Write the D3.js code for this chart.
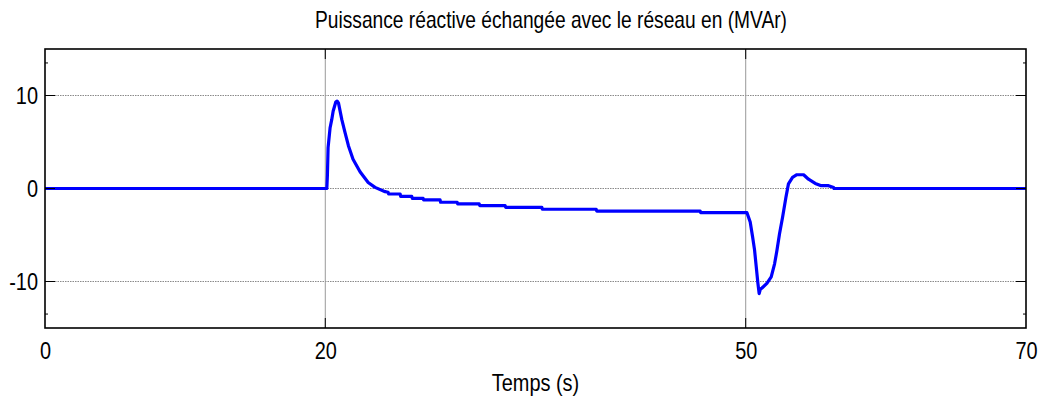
<!DOCTYPE html>
<html>
<head>
<meta charset="utf-8">
<script src="https://cdn.jsdelivr.net/npm/d3@7"></script>
<style>
  body { margin: 0; background: #fff; }
  svg { display: block; font-family: "Liberation Sans", Arial, sans-serif; }
</style>
</head>
<body>
<div class="display"></div>
<script>
// temps (s) et puissance réactive (MVAr)
const time = [0, 20.11, 20.15, 20.2, 20.34, 20.46, 20.56, 20.75, 20.84, 20.94, 21.18, 21.41, 21.65, 21.98, 22.48, 23.06, 23.55, 24.27,
  24.48, 24.52, 25.34, 25.38, 26.17, 26.21, 26.98, 27.02, 28.19, 28.23, 29.41, 29.45, 30.98, 31.02, 32.83, 32.87,
  35.45, 35.49, 39.33, 39.37, 46.75, 46.79, 50.09, 50.32, 50.49, 50.63, 50.75, 50.87, 50.96, 51.05, 51.16, 51.51,
  51.82, 52.06, 52.23, 52.41, 52.63, 52.87, 53.05, 53.34, 53.65, 54.13, 54.48, 54.96, 55.39, 55.91, 56.27, 56.3, 70];
const power = [0, 0, 1.4, 4.4, 6.5, 7.4, 8.3, 9.3, 9.4, 9.2, 7.4, 6.0, 4.6, 3.15, 1.8, 0.65, 0.12, -0.34,
  -0.4, -0.59, -0.59, -0.84, -0.84, -1.06, -1.06, -1.23, -1.23, -1.48, -1.48, -1.65, -1.65, -1.84, -1.84, -2.02,
  -2.02, -2.23, -2.23, -2.43, -2.43, -2.6, -2.6, -3.6, -5.2, -6.6, -8.4, -10.2, -11.3, -10.8, -10.7, -10.2,
  -9.5, -8.1, -6.65, -4.9, -3.1, -0.95, 0.5, 1.2, 1.48, 1.48, 1.0, 0.55, 0.3, 0.3, 0.1, 0, 0];

const xTicks = [0, 20, 50, 70];
const yTicks = [-10, 0, 10];
const xGrid = [20, 50];
const yMinorTicks = [-13.5, 13.5];

const title = 'Puissance réactive échangée avec le réseau en (MVAr)';
const xLabel = 'Temps (s)';

const width = 1042;
const height = 400;
const margin = { top: 49, right: 16, bottom: 72, left: 45 };

const svg = d3.select('.display')
  .append('svg')
  .attr('width', width)
  .attr('height', height);

const xScale = d3.scaleLinear()
  .domain([0, 70])
  .range([margin.left, width - margin.right]);

const yScale = d3.scaleLinear()
  .domain([-15, 15])
  .range([height - margin.bottom, margin.top]);

// texte étroit, comme la police de la figure
function narrow(sel, k = 0.83) {
  sel.each(function () {
    const w = this.getComputedTextLength();
    d3.select(this).attr('textLength', w * k).attr('lengthAdjust', 'spacingAndGlyphs');
  });
}

// grille
svg.append('g')
  .selectAll('line')
  .data(yTicks)
  .enter()
  .append('line')
  .attr('x1', xScale(0))
  .attr('x2', xScale(70))
  .attr('y1', d => yScale(d))
  .attr('y2', d => yScale(d))
  .attr('stroke', '#8a8a8a')
  .attr('stroke-width', 1)
  .attr('stroke-dasharray', '1.5,1');

svg.append('g')
  .selectAll('line')
  .data(xGrid)
  .enter()
  .append('line')
  .attr('x1', d => xScale(d))
  .attr('x2', d => xScale(d))
  .attr('y1', yScale(15))
  .attr('y2', yScale(-15))
  .attr('stroke', '#999')
  .attr('stroke-width', 1);

// courbe
const line = d3.line()
  .x((d, i) => xScale(time[i]))
  .y(d => yScale(d));

svg.append('path')
  .datum(power)
  .attr('d', line)
  .attr('fill', 'none')
  .attr('stroke', '#0000ff')
  .attr('stroke-width', 3.2)
  .attr('stroke-linejoin', 'round');

// axes
const fontSize = '24px';

svg.append('g')
  .attr('transform', `translate(0, ${yScale(-15)})`)
  .call(d3.axisBottom(xScale).tickValues(xTicks).tickSize(0).tickPadding(14).tickFormat(d => `${d}`))
  .call(g => g.select('.domain').remove())
  .selectAll('text')
  .attr('fill', '#000')
  .style('font-size', fontSize)
  .style('font-family', '"Liberation Sans", Arial, sans-serif')
  .call(narrow);

svg.append('g')
  .attr('transform', `translate(${xScale(0)}, 0)`)
  .call(d3.axisLeft(yScale).tickValues(yTicks).tickSize(0).tickPadding(7).tickFormat(d => `${d}`))
  .call(g => g.select('.domain').remove())
  .selectAll('text')
  .attr('fill', '#000')
  .style('font-size', fontSize)
  .style('font-family', '"Liberation Sans", Arial, sans-serif')
  .call(narrow);

// ticks intérieurs
const tickLen = 10;
const ticks = svg.append('g').attr('stroke', '#000').attr('stroke-width', 1);
yTicks.forEach(v => {
  ticks.append('line').attr('x1', xScale(0)).attr('x2', xScale(0) + tickLen).attr('y1', yScale(v)).attr('y2', yScale(v));
  ticks.append('line').attr('x1', xScale(70)).attr('x2', xScale(70) - tickLen).attr('y1', yScale(v)).attr('y2', yScale(v));
});
yMinorTicks.forEach(v => {
  ticks.append('line').attr('x1', xScale(0)).attr('x2', xScale(0) + 3).attr('y1', yScale(v)).attr('y2', yScale(v));
  ticks.append('line').attr('x1', xScale(70)).attr('x2', xScale(70) - 3).attr('y1', yScale(v)).attr('y2', yScale(v));
});
xGrid.forEach(v => {
  ticks.append('line').attr('x1', xScale(v)).attr('x2', xScale(v)).attr('y1', yScale(-15)).attr('y2', yScale(-15) - tickLen);
  ticks.append('line').attr('x1', xScale(v)).attr('x2', xScale(v)).attr('y1', yScale(15)).attr('y2', yScale(15) + tickLen);
});

// cadre
svg.append('rect')
  .attr('x', xScale(0))
  .attr('y', yScale(15))
  .attr('width', xScale(70) - xScale(0))
  .attr('height', yScale(-15) - yScale(15))
  .attr('fill', 'none')
  .attr('stroke', '#000')
  .attr('stroke-width', 1.6);

// titres
svg.append('text')
  .attr('x', 551)
  .attr('y', 28)
  .attr('text-anchor', 'middle')
  .attr('textLength', 472)
  .attr('lengthAdjust', 'spacingAndGlyphs')
  .style('font-size', fontSize)
  .text(title);

svg.append('text')
  .attr('x', (xScale(0) + xScale(70)) / 2)
  .attr('y', 391)
  .attr('text-anchor', 'middle')
  .style('font-size', fontSize)
  .text(xLabel)
  .call(narrow);
</script>
</body>
</html>
